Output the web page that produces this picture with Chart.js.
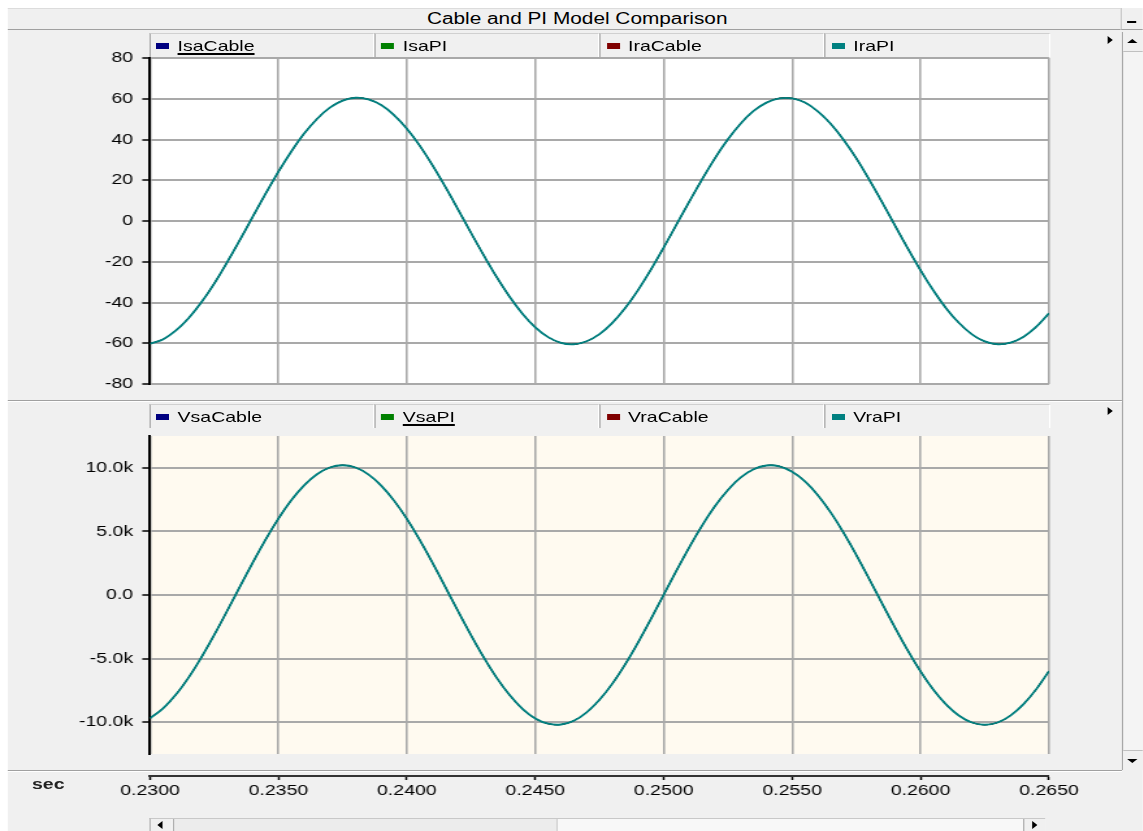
<!DOCTYPE html>
<html lang="en">
<head>
<meta charset="UTF-8">
<title>Cable and PI Model Comparison</title>
<script src="https://cdn.jsdelivr.net/npm/chart.js"></script>
<style>
  html, body { margin: 0; padding: 0; background: #fff; }
  body { width: 1143px; height: 831px; overflow: hidden; position: relative;
         font-family: "Liberation Sans", Arial, sans-serif; color: #000; }
  /* the reference screenshot is stretched sideways, so the whole window is too */
  #win { position: absolute; left: 0; top: 0; width: 879px; height: 831px;
         transform: scaleX(1.3); transform-origin: 0 0; }
  #win > * { position: absolute; }
  #frame { left: 6px; top: 8px; width: 873px; height: 823px; background: #f0f0f0; }
  #titlebar { left: 6px; top: 8px; width: 856px; height: 22px; box-sizing: border-box;
              border-top: 1px solid #dcdcdc; border-bottom: 1px solid #a0a0a0; }
  #title { left: 0; top: 8px; width: 888px; height: 22px; line-height: 22px;
           text-align: center; font-size: 16px; }
  #minbtn { left: 862px; top: 8px; width: 17px; height: 22px; box-sizing: border-box;
            border-bottom: 1px solid #a0a0a0; border-left: 1px solid #c8c8c8; }
  #minbtn div { position: absolute; left: 4px; top: 13px; width: 7px; height: 2px; background: #000; }
  .sep { left: 6px; width: 857px; height: 0; border-top: 1px solid #a0a0a0; border-bottom: 1px solid #fff; }
  #vscroll { left: 863px; top: 32px; width: 16px; height: 738px; box-sizing: border-box;
             background: #f4f4f4; border-left: 1px solid #a8a8a8; }
  .vbtn { position: absolute; left: 0; width: 15px; height: 19px; background: #f0f0f0; }
  .tri-up { position: absolute; left: 3px; top: 7px; width: 0; height: 0;
            border-left: 4px solid transparent; border-right: 4px solid transparent; border-bottom: 4px solid #000; }
  .tri-dn { position: absolute; left: 3px; top: 8px; width: 0; height: 0;
            border-left: 4px solid transparent; border-right: 4px solid transparent; border-top: 4px solid #000; }
  .tri-r { width: 0; height: 0; border-left: 4px solid #000;
           border-top: 4px solid transparent; border-bottom: 4px solid transparent; }
  .tri-l { width: 0; height: 0; border-right: 4px solid #000;
           border-top: 4px solid transparent; border-bottom: 4px solid transparent; }
  .row { left: 114.6px; width: 693px; height: 24px; }
  .cell { position: absolute; top: 0; width: 173.25px; height: 24px; box-sizing: border-box;
          border-top: 1px solid #d0d0d0; border-left: 1px solid #a8a8a8; border-right: 1px solid #fff; }
  .sw { position: absolute; left: 4.6px; top: 9px; width: 10px; height: 6px; }
  .lbl { position: absolute; left: 21px; top: 0; line-height: 24px; font-size: 15px; white-space: nowrap; }
  .ul { text-decoration: underline; text-decoration-thickness: 2px; text-underline-offset: 2px; }
  #sec { left: 24.6px; top: 775px; line-height: 18px; font-size: 15px; font-weight: bold; color: #222; }
  #hscroll { left: 115.4px; top: 818px; width: 688.5px; height: 13px; background: #f8f8f8;
             box-sizing: border-box; border-left: 1px solid #a8a8a8; border-top: 1px solid #c8c8c8; }
  #hscroll .hbtn { position: absolute; top: 0; width: 16px; height: 13px; background: #f0f0f0; }
  #hscroll .thumb { position: absolute; top: 0; left: 17px; width: 294px; height: 13px;
                    background: #ececec; border-left: 1px solid #b0b0b0; border-right: 1px solid #d0d0d0; }
  canvas { position: absolute; left: 0; }
</style>
</head>
<body>
<div id="win">
  <div id="frame"></div>
  <div id="titlebar"></div>
  <div id="title">Cable and PI Model Comparison</div>
  <div id="minbtn"><div></div></div>
  <div id="vscroll">
    <div class="vbtn" style="top:0;border-bottom:1px solid #c0c0c0"><div class="tri-up"></div></div>
    <div class="vbtn" style="bottom:0;border-top:1px solid #c0c0c0"><div class="tri-dn"></div></div>
  </div>

  <canvas id="topChart" width="830" height="360" style="top:40px;width:830px;height:360px"></canvas>
  <canvas id="botChart" width="830" height="350" style="top:420px;width:830px;height:350px"></canvas>
  <div class="sep" style="top:400px"></div>
  <div class="sep" style="top:770px"></div>
  <canvas id="axisChart" width="860" height="80" style="top:722px;width:860px;height:80px"></canvas>

  <div id="topLegend" class="row" style="top:33px"></div>
  <div id="botLegend" class="row" style="top:404px"></div>
  <div class="tri-r" style="left:852px;top:36px"></div>
  <div class="tri-r" style="left:852px;top:407px"></div>
  <div id="sec">sec</div>
  <div id="hscroll">
    <div class="hbtn" style="left:0"><div class="tri-l" style="position:absolute;left:5px;top:2px"></div></div>
    <div class="thumb"></div>
    <div class="hbtn" style="right:0;border-left:1px solid #b0b0b0"><div class="tri-r" style="position:absolute;left:6px;top:2px"></div></div>
  </div>
</div>

<script>
  // time axis (s)
  const times = [
    0.2300, 0.2305, 0.2310, 0.2315, 0.2320, 0.2325, 0.2330, 0.2335, 0.2340, 0.2345,
    0.2350, 0.2355, 0.2360, 0.2365, 0.2370, 0.2375, 0.2380, 0.2385, 0.2390, 0.2395,
    0.2400, 0.2405, 0.2410, 0.2415, 0.2420, 0.2425, 0.2430, 0.2435, 0.2440, 0.2445,
    0.2450, 0.2455, 0.2460, 0.2465, 0.2470, 0.2475, 0.2480, 0.2485, 0.2490, 0.2495,
    0.2500, 0.2505, 0.2510, 0.2515, 0.2520, 0.2525, 0.2530, 0.2535, 0.2540, 0.2545,
    0.2550, 0.2555, 0.2560, 0.2565, 0.2570, 0.2575, 0.2580, 0.2585, 0.2590, 0.2595,
    0.2600, 0.2605, 0.2610, 0.2615, 0.2620, 0.2625, 0.2630, 0.2635, 0.2640, 0.2645,
    0.2650
  ];

  // currents (A) - cable and PI traces lie on top of each other at this scale
  const current = [
    -60.2, -58.1, -53.8, -47.7, -39.9, -30.7, -20.3,  -9.3,   2.1,  13.4,
     24.2,  34.1,  42.9,  50.1,  55.6,  59.1,  60.5,  59.7,  56.9,  52.0,
     45.3,  37.0,  27.3,  16.7,   5.5,  -5.9, -17.0, -27.6, -37.2, -45.5,
    -52.2, -57.0, -59.8, -60.5, -59.0, -55.5, -50.0, -42.7, -33.9, -23.9,
    -13.0,  -1.7,   9.6,  20.6,  30.9,  40.1,  47.9,  54.0,  58.1,  60.2,
     60.2,  58.1,  53.8,  47.7,  39.9,  30.7,  20.3,   9.3,  -2.1, -13.4,
    -24.2, -34.1, -42.9, -50.1, -55.6, -59.1, -60.5, -59.7, -56.9, -52.0,
    -45.3
  ];

  // voltages (V)
  const voltage = [
     -9690,  -8930,  -7850,  -6490,  -4900,  -3140,  -1260,    660,   2550,   4360,
      6010,   7450,   8620,   9490,  10020,  10200,  10020,   9480,   8600,   7420,
      5980,   4330,   2520,    620,  -1300,  -3170,  -4930,  -6520,  -7870,  -8950,
     -9710, -10120, -10180,  -9880,  -9220,  -8240,  -6970,  -5450,  -3740,  -1890,
        20,   1930,   3770,   5480,   7000,   8260,   9240,   9880,  10180,  10120,
      9690,   8930,   7850,   6490,   4900,   3140,   1260,   -660,  -2550,  -4360,
     -6010,  -7450,  -8620,  -9490, -10020, -10200, -10020,  -9480,  -8600,  -7420,
     -5980
  ];

  const currentNames = ['IsaCable', 'IsaPI', 'IraCable', 'IraPI'];
  const voltageNames = ['VsaCable', 'VsaPI', 'VraCable', 'VraPI'];
  const seriesColors = ['#000080', '#008000', '#800000', '#008080'];

  const timeTicks = [0.230, 0.235, 0.240, 0.245, 0.250, 0.255, 0.260, 0.265];
  const timeLabels = ['0.2300', '0.2350', '0.2400', '0.2450', '0.2500', '0.2550', '0.2600', '0.2650'];
  const currentTicks = [-80, -60, -40, -20, 0, 20, 40, 60, 80];
  const currentLabels = ['-80', '-60', '-40', '-20', '0', '20', '40', '60', '80'];
  const voltageTicks = [-10000, -5000, 0, 5000, 10000];
  const voltageLabels = ['-10.0k', '-5.0k', '0.0', '5.0k', '10.0k'];

  Chart.defaults.font.family = '"Liberation Sans", Arial, sans-serif';
  Chart.defaults.font.size = 15;
  Chart.defaults.color = '#000';

  const axisWidth = 115.4;   // left edge of the plot area
  const gridColor = '#a9a9a9';

  // legends as rows of boxed cells
  function buildLegend(id, names, underlined) {
    const row = document.getElementById(id);
    names.forEach((name, i) => {
      const cell = document.createElement('div');
      cell.className = 'cell';
      cell.style.left = (i * 173.25) + 'px';
      cell.innerHTML = '<span class="sw" style="background:' + seriesColors[i] + '"></span>' +
        '<span class="lbl' + (i === underlined ? ' ul' : '') + '">' + name + '</span>';
      row.appendChild(cell);
    });
  }
  buildLegend('topLegend', currentNames, 0);
  buildLegend('botLegend', voltageNames, 1);

  const plotBackground = {
    id: 'plotBackground',
    beforeDraw(chart, args, opts) {
      const { ctx, chartArea: a } = chart;
      ctx.save();
      ctx.fillStyle = opts.color;
      ctx.fillRect(a.left, a.top, a.right - a.left, a.bottom - a.top);
      ctx.restore();
    }
  };

  // the last trace (teal) is drawn on top and hides the others
  function makeDatasets(names, values) {
    const last = names.length - 1;
    return names.map((name, i) => ({
      label: name,
      data: times.map((t, j) => ({ x: t, y: values[j] })),
      borderColor: seriesColors[i],
      borderWidth: i === last ? 1.8 : 1,
      pointRadius: 0,
      tension: 0.35,
      fill: false,
      order: last - i
    }));
  }

  function panel(canvasId, names, values, yMin, yMax, yTicks, yLabels, bg, pad) {
    return new Chart(document.getElementById(canvasId), {
      type: 'line',
      data: { datasets: makeDatasets(names, values) },
      plugins: [plotBackground],
      options: {
        responsive: false,
        animation: false,
        events: [],
        layout: { padding: pad },
        plugins: {
          legend: { display: false },
          tooltip: { enabled: false },
          plotBackground: { color: bg }
        },
        scales: {
          x: {
            type: 'linear', min: 0.23, max: 0.265,
            afterBuildTicks: s => { s.ticks = timeTicks.map(v => ({ value: v })); },
            ticks: { display: false },
            grid: { color: gridColor, lineWidth: 1.6, drawTicks: false },
            border: { display: false }
          },
          y: {
            type: 'linear', min: yMin, max: yMax,
            afterBuildTicks: s => { s.ticks = yTicks.map(v => ({ value: v })); },
            afterFit: s => { s.width = axisWidth; },
            ticks: { padding: 7, callback: (v, i) => yLabels[i] },
            grid: { color: gridColor, lineWidth: 2, tickLength: 6, tickColor: '#000', tickWidth: 1.5 },
            border: { color: '#000', width: 2 }
          }
        }
      }
    });
  }

  panel('topChart', currentNames, current, -80, 80, currentTicks, currentLabels, '#ffffff',
        { top: 18, bottom: 13, left: 0, right: 23.1 });
  panel('botChart', voltageNames, voltage, -12500, 12500, voltageTicks, voltageLabels, '#fffaf0',
        { top: 10, bottom: 13, left: 0, right: 23.1 });

  // shared time axis under both panels
  new Chart(document.getElementById('axisChart'), {
    type: 'line',
    data: { datasets: [] },
    options: {
      responsive: false,
      animation: false,
      events: [],
      layout: { padding: { top: 13, bottom: 0, left: axisWidth, right: 53.1 } },
      plugins: { legend: { display: false }, tooltip: { enabled: false } },
      scales: {
        x: {
          type: 'linear', position: 'bottom', min: 0.23, max: 0.265,
          afterBuildTicks: s => { s.ticks = timeTicks.map(v => ({ value: v })); },
          ticks: { padding: 2, maxRotation: 0, autoSkip: false, callback: (v, i) => timeLabels[i] },
          grid: { drawOnChartArea: false, tickLength: 4, tickColor: '#000', tickWidth: 1.5 },
          border: { color: '#333', width: 2 }
        },
        y: { display: false }
      }
    }
  });
</script>
</body>
</html>
